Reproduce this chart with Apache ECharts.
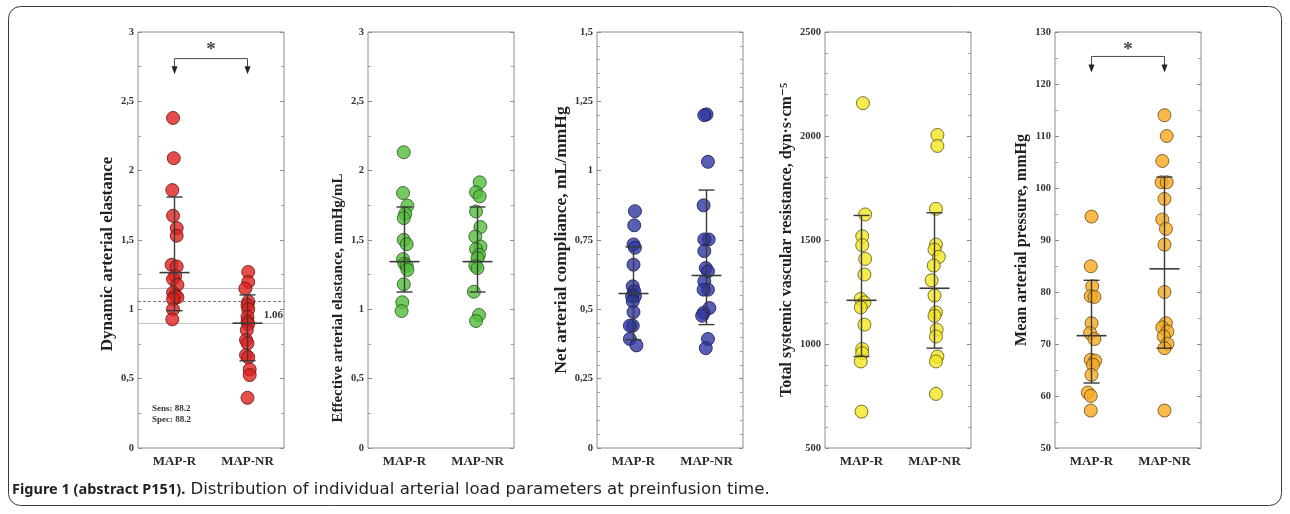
<!DOCTYPE html>
<html>
<head>
<meta charset="utf-8">
<script src="https://cdn.jsdelivr.net/npm/echarts@6/dist/echarts.min.js"></script>
<style>
html,body{margin:0;padding:0;background:#fff;}
#chart{width:1290px;height:514px;}
</style>
</head>
<body>
<div id="chart"></div>
<script>
// ---------- data ----------
const categories = ['MAP-R', 'MAP-NR'];
const yNames = [
  'Dynamic arterial elastance',
  'Effective arterial elastance, mmHg/mL',
  'Net arterial compliance, mL/mmHg',
  'Total systemic vascular resistance, dyn\u00b7s\u00b7cm\u207b\u2075',
  'Mean arterial pressure, mmHg'
];
// axis ranges
const axisMin = [0, 0, 0, 500, 50];
const axisMax = [3, 3, 1.5, 2500, 130];
const axisStep = [0.5, 0.5, 0.25, 500, 10];
const axisMinor = [2, 2, 5, 5, 2];

// Panel 1: dynamic arterial elastance
const eadynR  = [2.38, 2.09, 1.86, 1.675, 1.586, 1.531, 1.321, 1.309, 1.24, 1.218, 1.176, 1.121, 1.10, 1.087, 1.073, 1.0, 0.928];
const eadynRx = [0.48, 0.49, 0.47, 0.48, 0.53, 0.53, 0.46, 0.53, 0.51, 0.48, 0.54, 0.48, 0.51, 0.54, 0.48, 0.48, 0.47];
const eadynN  = [1.27, 1.198, 1.15, 1.056, 1.03, 1.0, 0.947, 0.911, 0.894, 0.85, 0.779, 0.755, 0.67, 0.654, 0.567, 0.526, 0.362];
const eadynNx = [1.51, 1.51, 1.47, 1.51, 1.50, 1.51, 1.50, 1.50, 1.51, 1.49, 1.48, 1.50, 1.48, 1.51, 1.53, 1.53, 1.50];
const eadynStats = [[0.5, 1.265, 0.99, 1.81], [1.5, 0.90, 0.629, 1.104]];
const eadynRefLines = [1.15, 1.06, 0.9];
const eadynCutoff = 1.06;
const sensSpec = ['Sens: 88.2', 'Spec: 88.2'];

// Panel 2: effective arterial elastance
const eaR  = [2.133, 1.839, 1.747, 1.689, 1.658, 1.501, 1.47, 1.362, 1.328, 1.313, 1.284, 1.181, 1.051, 0.988];
const eaRx = [0.49, 0.48, 0.54, 0.51, 0.49, 0.49, 0.53, 0.48, 0.50, 0.53, 0.54, 0.49, 0.47, 0.46];
const eaN  = [1.916, 1.844, 1.815, 1.706, 1.593, 1.525, 1.453, 1.434, 1.393, 1.369, 1.313, 1.297, 1.127, 0.959, 0.916];
const eaNx = [1.53, 1.48, 1.53, 1.48, 1.54, 1.47, 1.54, 1.48, 1.52, 1.50, 1.47, 1.50, 1.45, 1.52, 1.48];
const eaStats = [[0.5, 1.344, 1.125, 1.738], [1.5, 1.344, 1.125, 1.738]];

// Panel 3: net arterial compliance
const cR  = [0.854, 0.803, 0.734, 0.722, 0.661, 0.583, 0.565, 0.547, 0.547, 0.529, 0.49, 0.441, 0.441, 0.393, 0.37];
const cRx = [0.52, 0.51, 0.50, 0.52, 0.50, 0.49, 0.51, 0.48, 0.52, 0.49, 0.50, 0.49, 0.45, 0.45, 0.54];
const cN  = [1.203, 1.20, 1.032, 0.875, 0.752, 0.752, 0.71, 0.649, 0.637, 0.601, 0.571, 0.571, 0.505, 0.487, 0.477, 0.393, 0.36];
const cNx = [1.50, 1.47, 1.52, 1.46, 1.53, 1.47, 1.47, 1.49, 1.52, 1.47, 1.52, 1.46, 1.54, 1.46, 1.44, 1.52, 1.49];
const cStats = [[0.5, 0.557, 0.39, 0.725], [1.5, 0.622, 0.445, 0.93]];

// Panel 4: total systemic vascular resistance
const rR  = [2158, 1623, 1518, 1475, 1409, 1334, 1217, 1200, 1176, 1093, 976, 956, 916, 675];
const rRx = [0.52, 0.55, 0.51, 0.51, 0.55, 0.54, 0.49, 0.54, 0.49, 0.54, 0.51, 0.51, 0.49, 0.50];
const rN  = [2005, 1952, 1650, 1478, 1454, 1419, 1377, 1306, 1233, 1152, 1136, 1069, 1036, 940, 916, 760];
const rNx = [1.54, 1.54, 1.52, 1.52, 1.50, 1.56, 1.49, 1.46, 1.50, 1.52, 1.50, 1.53, 1.52, 1.54, 1.52, 1.52];
const rStats = [[0.5, 1210, 940, 1618], [1.5, 1268, 980, 1631]];

// Panel 5: mean arterial pressure
const mR  = [94.5, 84.95, 81.1, 79.2, 79.05, 74.0, 72.1, 70.95, 66.96, 66.8, 66.0, 64.07, 60.66, 60.02, 57.2];
const mRx = [0.50, 0.49, 0.51, 0.49, 0.54, 0.50, 0.48, 0.54, 0.49, 0.55, 0.52, 0.50, 0.45, 0.49, 0.49];
const mN  = [114.0, 110.0, 105.2, 101.1, 101.1, 97.9, 93.95, 92.15, 89.1, 80.0, 74.0, 73.2, 72.4, 71.45, 70.05, 69.2, 57.2];
const mNx = [1.50, 1.53, 1.47, 1.46, 1.53, 1.50, 1.47, 1.52, 1.50, 1.50, 1.52, 1.47, 1.54, 1.49, 1.54, 1.50, 1.50];
const mStats = [[0.5, 71.6, 62.5, 82.25], [1.5, 84.45, 69.2, 102.1]];

// significance brackets: [panel, lineY, tipY, starY]
const brackets = [[0, 2.808, 2.695, 2.87], [4, 125.3, 122.2, 126.6]];

const caption = ['Figure 1 (abstract P151).', ' Distribution of individual arterial load parameters at preinfusion time.'];

// ---------- layout / style ----------
const panels = [
  {r: eadynR, rx: eadynRx, n: eadynN, nx: eadynNx, s: eadynStats, fill: '#e0221e', edge: '#5e1410', fmt: 'comma', nameGap: 22, nameSize: 17, shift: 28},
  {r: eaR, rx: eaRx, n: eaN, nx: eaNx, s: eaStats, fill: '#52bd3a', edge: '#24521a', fmt: 'comma', nameGap: 22, nameSize: 15, shift: 116},
  {r: cR, rx: cRx, n: cN, nx: cNx, s: cStats, fill: '#2f37a0', edge: '#141a55', fmt: 'comma', nameGap: 26, nameSize: 17.5, shift: 0},
  {r: rR, rx: rRx, n: rN, nx: rNx, s: rStats, fill: '#f3e621', edge: '#5c5417', fmt: 'int', nameGap: 30, nameSize: 16, shift: 0},
  {r: mR, rx: mRx, n: mN, nx: mNx, s: mStats, fill: '#f6aa1e', edge: '#6a4610', fmt: 'int', nameGap: 25, nameSize: 16, shift: 0}
];
const gridLeft = [138, 368, 597, 825, 1055];
const serif = '"Liberation Serif", "DejaVu Serif", serif';

const grids = [], xAxes = [], yAxes = [], series = [];

function pairs(xs, ys) { return ys.map((y, i) => [xs[i], y]); }

panels.forEach((p, i) => {
  grids.push({left: gridLeft[i], top: 32, width: 146, height: 416, show: true,
    borderColor: '#8c8c8c', borderWidth: 1, backgroundColor: '#fff'});
  xAxes.push({type: 'value', gridIndex: i, min: 0, max: 2, show: false});
  xAxes.push({type: 'category', gridIndex: i, data: categories, position: 'bottom',
    axisLine: {show: false}, axisTick: {show: false}, splitLine: {show: false},
    axisLabel: {margin: 7, fontFamily: serif, fontWeight: 'bold', fontSize: 13, color: '#2a2a2a'}});
  const fmt = p.fmt === 'comma' ? (v => String(+v.toFixed(2)).replace('.', ',')) : (v => String(v));
  const base = {type: 'value', gridIndex: i, min: axisMin[i], max: axisMax[i], interval: axisStep[i],
    splitLine: {show: false}, axisLine: {show: false},
    axisTick: {show: true, inside: true, length: 4, lineStyle: {color: '#8c8c8c'}},
    minorTick: {show: true, splitNumber: axisMinor[i], length: 3, lineStyle: {color: '#a0a0a0'}}};
  yAxes.push(Object.assign({}, base, {position: 'left',
    name: yNames[i], nameLocation: 'middle', nameGap: p.nameGap,
    nameTextStyle: {fontFamily: serif, fontWeight: 'bold', fontSize: p.nameSize, color: '#222',
      padding: [0, p.shift, 0, 0]},
    axisLabel: {formatter: fmt, margin: 4, fontFamily: serif, fontWeight: 'bold', fontSize: 10.5, color: '#333'}}));
  yAxes.push(Object.assign({}, base, {position: 'right', axisLabel: {show: false}}));

  const pointStyle = {color: p.fill, borderColor: p.edge, borderWidth: 1};
  const sc = {type: 'scatter', xAxisIndex: 2 * i, yAxisIndex: 2 * i, symbolSize: 13,
    itemStyle: pointStyle, silent: true, animation: false, z: 3};
  const scR = Object.assign({}, sc, {data: pairs(p.rx, p.r)});
  const scN = Object.assign({}, sc, {data: pairs(p.nx, p.n)});
  if (i === 0) {
    scR.markLine = {silent: true, symbol: 'none', animation: false,
      data: eadynRefLines.map(v => v === eadynCutoff
        ? {yAxis: v, lineStyle: {color: '#777', type: [3, 2], width: 1},
           label: {show: true, position: 'insideEndBottom', distance: [1, 9], formatter: '1.06',
             fontFamily: serif, fontWeight: 'bold', fontSize: 11, color: '#333'}}
        : {yAxis: v, lineStyle: {color: '#c4c4c4', type: 'solid', width: 1}, label: {show: false}})};
    scR.markLine.z = 1;
  }
  series.push(scR, scN);

  series.push({type: 'custom', xAxisIndex: 2 * i, yAxisIndex: 2 * i, data: p.s, silent: true,
    animation: false, z: 5, encode: {x: 0, y: [1, 2, 3]},
    renderItem: function (params, api) {
      const x = api.value(0);
      const pm = api.coord([x, api.value(1)]);
      const pl = api.coord([x, api.value(2)]);
      const ph = api.coord([x, api.value(3)]);
      const st = {stroke: '#3a3a3a', lineWidth: 1.4};
      return {type: 'group', children: [
        {type: 'line', shape: {x1: pl[0], y1: pl[1], x2: ph[0], y2: ph[1]}, style: st},
        {type: 'line', shape: {x1: ph[0] - 8, y1: ph[1], x2: ph[0] + 8, y2: ph[1]}, style: st},
        {type: 'line', shape: {x1: pl[0] - 8, y1: pl[1], x2: pl[0] + 8, y2: pl[1]}, style: st},
        {type: 'line', shape: {x1: pm[0] - 15, y1: pm[1], x2: pm[0] + 15, y2: pm[1]}, style: {stroke: '#3a3a3a', lineWidth: 1.6}}
      ]};
    }});
});

brackets.forEach(b => {
  const i = b[0];
  series.push({type: 'custom', xAxisIndex: 2 * i, yAxisIndex: 2 * i, data: [[b[1], b[2], b[3]]],
    silent: true, animation: false, z: 6, encode: {y: [0, 1, 2]},
    renderItem: function (params, api) {
      const a = api.coord([0.5, api.value(0)]);
      const c = api.coord([1.5, api.value(0)]);
      const tip = api.coord([0.5, api.value(1)])[1];
      const star = api.coord([1.0, api.value(2)]);
      const st = {stroke: '#4a4a4a', lineWidth: 1};
      const tri = xx => ({type: 'polygon', shape: {points: [[xx - 3, tip - 8], [xx + 3, tip - 8], [xx, tip]]}, style: {fill: '#222'}});
      return {type: 'group', children: [
        {type: 'polyline', shape: {points: [[a[0], tip - 7], [a[0], a[1]], [c[0], c[1]], [c[0], tip - 7]]}, style: Object.assign({fill: 'none'}, st)},
        tri(a[0]), tri(c[0]),
        {type: 'text', x: star[0], y: star[1], style: {text: '*', fontFamily: serif, fontWeight: 'bold', fontSize: 19, fill: '#444', align: 'center', verticalAlign: 'middle'}}
      ]};
    }});
});

const chart = echarts.init(document.getElementById('chart'), null, {renderer: 'canvas'});
chart.setOption({
  animation: false,
  backgroundColor: '#fff',
  grid: grids,
  xAxis: xAxes,
  yAxis: yAxes,
  series: series,
  graphic: [
    {type: 'rect', shape: {x: 8.5, y: 6.5, width: 1273, height: 499, r: 12}, style: {fill: 'none', stroke: '#3a3a3a', lineWidth: 1}, z: 0, silent: true},
    {type: 'text', left: 152, top: 404, style: {text: sensSpec[0], fontFamily: serif, fontWeight: 'bold', fontSize: 9, fill: '#333'}, z: 10},
    {type: 'text', left: 152, top: 415, style: {text: sensSpec[1], fontFamily: serif, fontWeight: 'bold', fontSize: 9, fill: '#333'}, z: 10},
    {type: 'text', left: 12, top: 481, z: 10, style: {
      text: '{b|' + caption[0] + '}{r|' + caption[1] + '}',
      rich: {
        b: {fontFamily: '"Noto Sans", sans-serif', fontWeight: 'bold', fontSize: 14.5, fill: '#231f20', color: '#231f20'},
        r: {fontFamily: '"DejaVu Sans", sans-serif', fontSize: 16.6, fill: '#231f20', color: '#231f20'}
      }}}
  ]
});
</script>
</body>
</html>
